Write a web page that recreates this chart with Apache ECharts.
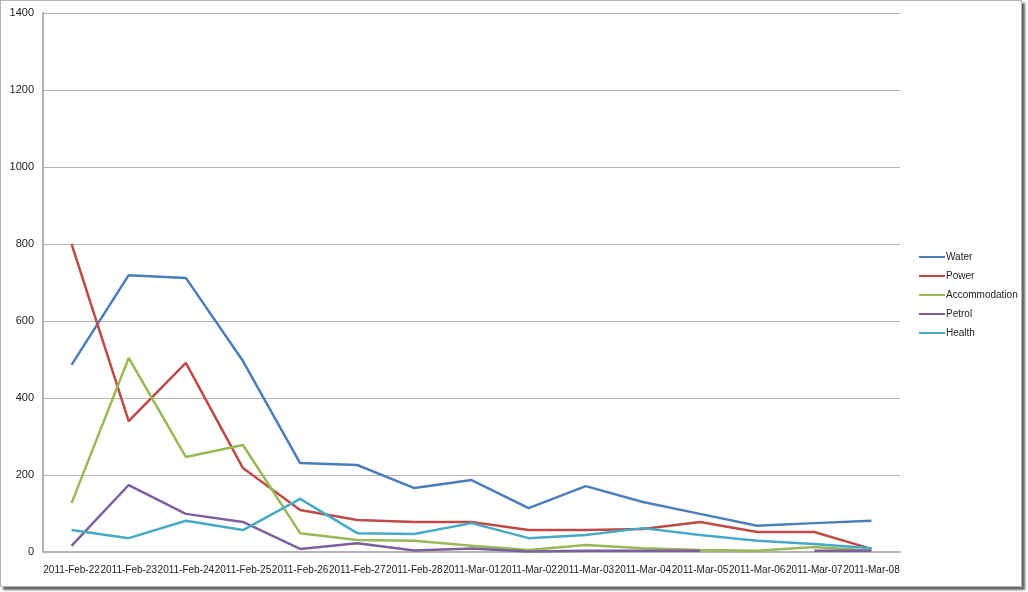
<!DOCTYPE html>
<html>
<head>
<meta charset="utf-8">
<script src="https://cdn.jsdelivr.net/npm/echarts@6/dist/echarts.min.js"></script>
<style>
  body { margin: 0; background: #fff; }
  #frame {
    position: absolute; left: 0; top: 0;
    width: 1020px; height: 585px;
    border: 1px solid #b4b4b4;
    box-shadow: 3px 3px 2px #666;
    background: #fff;
  }
  #chart { position: absolute; left: 0; top: 0; width: 1028px; height: 592px; }
</style>
</head>
<body>
<div id="frame"></div>
<div id="chart"></div>
<script>
// dates on the x axis
const days = [
  "2011-Feb-22", "2011-Feb-23", "2011-Feb-24", "2011-Feb-25", "2011-Feb-26",
  "2011-Feb-27", "2011-Feb-28", "2011-Mar-01", "2011-Mar-02", "2011-Mar-03",
  "2011-Mar-04", "2011-Mar-05", "2011-Mar-06", "2011-Mar-07", "2011-Mar-08"
];
const water = [486, 719, 712, 496, 231, 226, 166, 187, 114, 171, 130, 99, 68, 75, 81];
const power = [800, 340, 491, 218, 109, 83, 78, 78, 57, 57, 60, 78, 52, 52, 8];
const accommodation = [127, 504, 247, 278, 49, 31, 29, 16, 5, 18, 10, 5, 3, 13, 3];
const petrol = [16, 174, 99, 78, 8, 23, 4, 9, 1, 3, 3, 3, null, 3, 3];
const health = [57, 36, 81, 57, 138, 49, 47, 75, 36, 44, 62, 44, 29, 21, 10];

const colors = ["#4a7ebb", "#be4b48", "#98b954", "#7d5fa0", "#46aac5"];
const font = "Liberation Sans";

function line(name, data) {
  return {
    name: name,
    type: "line",
    data: data,
    symbol: "none",
    lineStyle: { width: 2.5 },
    connectNulls: false
  };
}

let chart = echarts.init(document.getElementById("chart"));
chart.setOption({
  color: colors,
  animation: false,
  textStyle: { fontFamily: font },
  grid: { left: 43, right: 128, top: 13, bottom: 40 },
  legend: {
    orient: "vertical",
    left: 914,
    top: 247,
    itemGap: 9,
    itemWidth: 26,
    itemHeight: 12,
    icon: "path://M0,5 L26,5 L26,7 L0,7 Z",
    textStyle: { fontSize: 10, color: "#222", padding: [0, 0, 0, -4] },
    data: ["Water", "Power", "Accommodation", "Petrol", "Health"]
  },
  xAxis: {
    type: "category",
    data: days,
    boundaryGap: true,
    axisLine: { lineStyle: { color: "#b4b4b4", width: 2 } },
    axisTick: { show: false },
    axisLabel: { interval: 0, fontSize: 10, color: "#222", margin: 13 }
  },
  yAxis: {
    type: "value",
    min: 0,
    max: 1400,
    interval: 200,
    axisLine: { show: true, lineStyle: { color: "#b4b4b4", width: 2 } },
    axisTick: { show: false },
    axisLabel: { fontSize: 11, color: "#222", margin: 9, formatter: v => String(v) },
    splitLine: { lineStyle: { color: "#b4b4b4", width: 1 } }
  },
  series: [
    line("Water", water),
    line("Power", power),
    line("Accommodation", accommodation),
    line("Petrol", petrol),
    line("Health", health)
  ]
});
</script>
</body>
</html>
